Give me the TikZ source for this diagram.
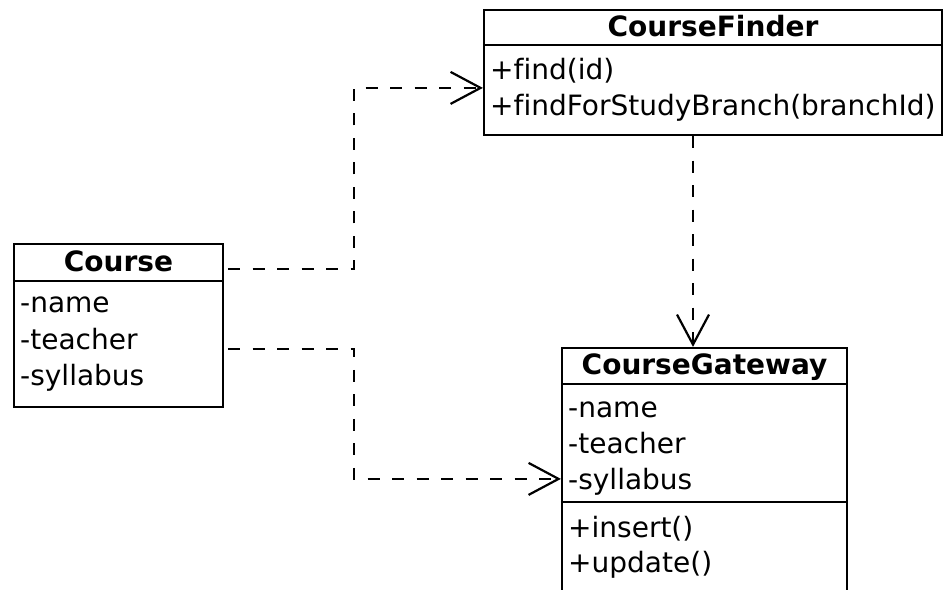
\documentclass[tikz,border=0pt]{standalone}
\usepackage{fontspec}
\setmainfont{DejaVu Sans}[Ligatures=CommonOff]
\usetikzlibrary{arrows.meta}

\begin{document}
\begin{tikzpicture}[x=1pt,y=-1pt,
  box/.style={draw,line width=2.2pt,inner sep=0pt},
  sep/.style={line width=2.2pt},
  dep/.style={line width=2.2pt,dash pattern=on 12pt off 12.5pt,
    -{Straight Barb[length=30pt,width=32pt]}},
  title/.style={font=\fontsize{28}{34}\selectfont\bfseries,anchor=base,inner sep=0pt},
  item/.style={font=\fontsize{28}{34}\selectfont,anchor=base west,inner sep=0pt}]

% 画布大小
\useasboundingbox (0,0) rectangle (945,589);
\clip (0,0) rectangle (945,589);

% 定义三个类框
\node[box,minimum width=209pt,minimum height=163pt] (course) at (118.5,325.5) {};
\node[box,minimum width=458pt,minimum height=125pt] (finder) at (713,72.5) {};
\node[box,minimum width=285pt,minimum height=292pt] (gateway) at (704.5,494) {};

% 类框里的分隔线
\draw[sep] (course.west |- 0,281) -- (course.east |- 0,281);
\draw[sep] (finder.west |- 0,45) -- (finder.east |- 0,45);
\draw[sep] (gateway.west |- 0,384) -- (gateway.east |- 0,384);
\draw[sep] (gateway.west |- 0,502) -- (gateway.east |- 0,502);

% 类名
\node[title] (courseT) at (118.5,271) {Course};
\node[title] (finderT) at (713,36) {CourseFinder};
\node[title] (gatewayT) at (704.5,374) {CourseGateway};

% Course 的属性
\node[item] (courseA1) at (20,312) {-name};
\node[item] (courseA2) at (20,349) {-teacher};
\node[item] (courseA3) at (20,385) {-syllabus};

% CourseFinder 的方法
\node[item] (finderM1) at (490,79) {+find(id)};
\node[item] (finderM2) at (490,115) {+findForStudyBranch(branchId)};

% CourseGateway 的属性和方法
\node[item] (gatewayA1) at (568,417) {-name};
\node[item] (gatewayA2) at (568,453) {-teacher};
\node[item] (gatewayA3) at (568,489) {-syllabus};
\node[item] (gatewayM1) at (568,537) {+insert()};
\node[item] (gatewayM2) at (568,572) {+update()};

% 虚线依赖箭头
\draw[dep] ([xshift=4pt,yshift=-26pt]course.north east) -- ++(126,0)
  |- ([yshift=-79pt]finder.north west);
\draw[dep] ([xshift=4pt,yshift=-106pt]course.north east) -- ++(126,0)
  |- ([yshift=-132pt]gateway.north west);
\draw[dep] ([xshift=-20pt]finder.south) -- ([xshift=-20pt]finder.south |- gateway.north);

\end{tikzpicture}
\end{document}
